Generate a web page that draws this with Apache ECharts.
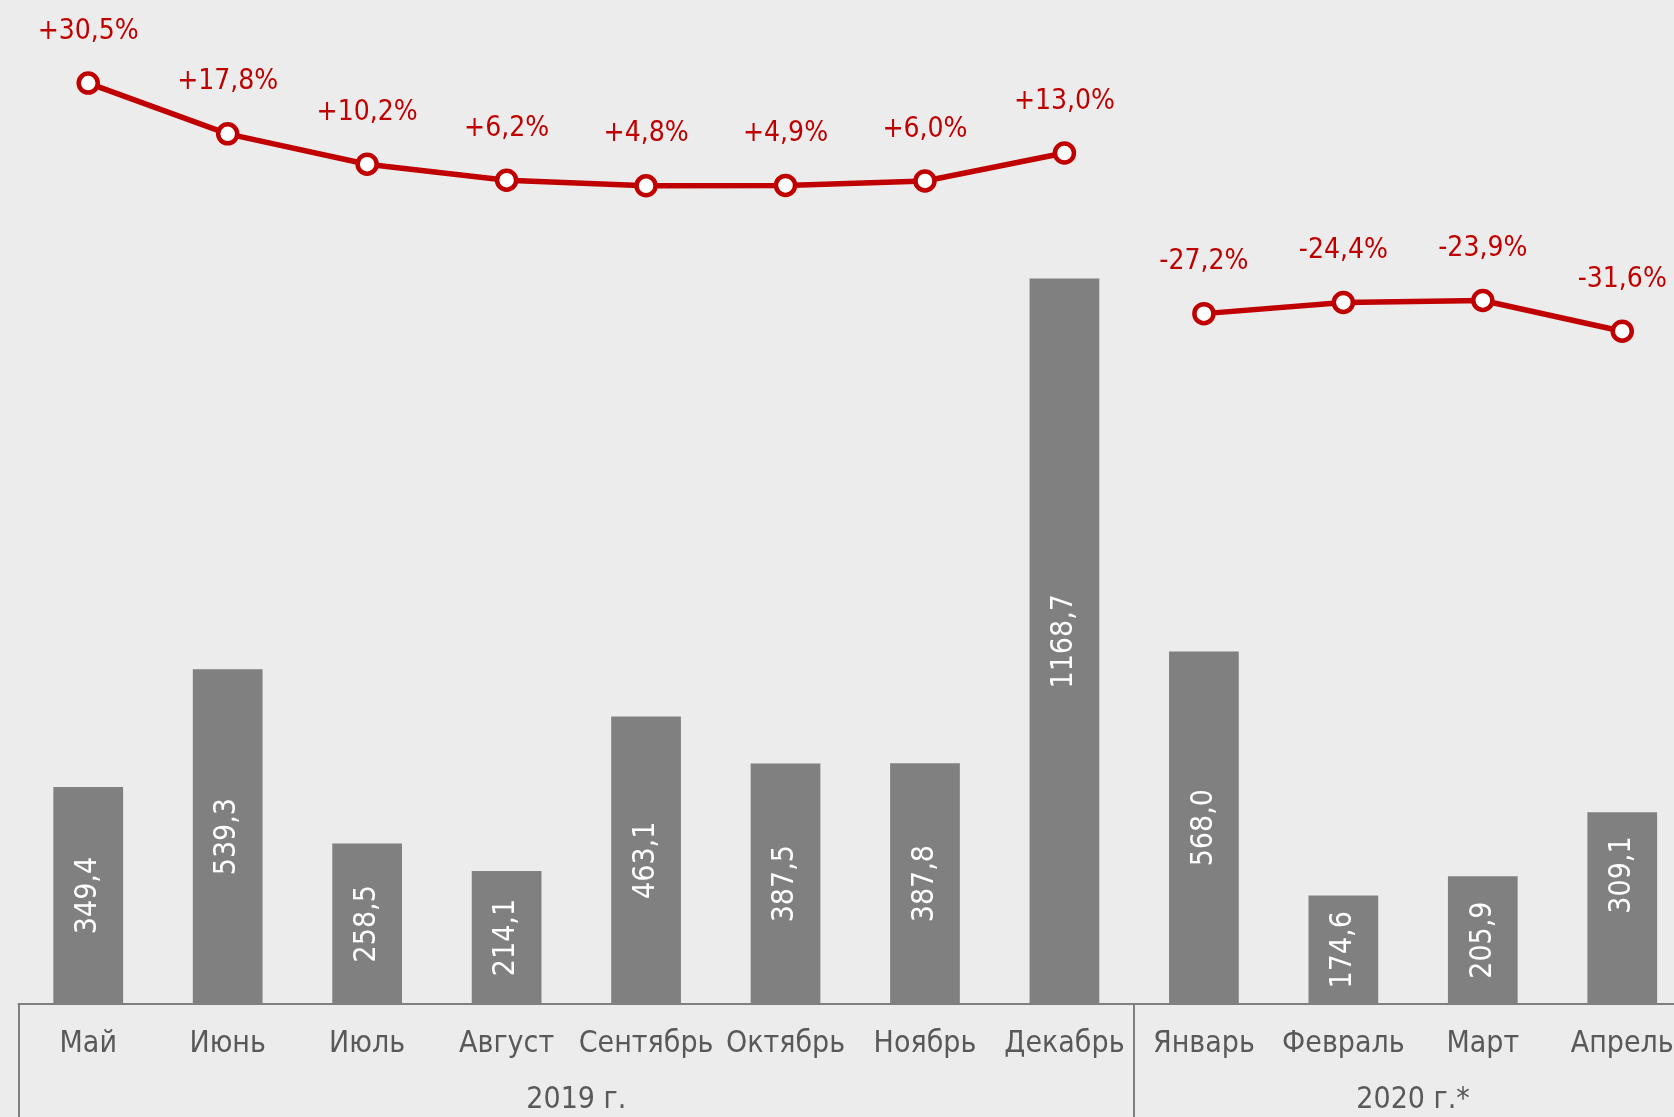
<!DOCTYPE html>
<html>
<head>
<meta charset="utf-8">
<title>Объём по месяцам</title>
<script src="https://cdn.jsdelivr.net/npm/echarts@6/dist/echarts.min.js"></script>
<style>
  html, body { margin: 0; padding: 0; background: #ececec; overflow: hidden; }
  /* the chart runs past the right edge of the window, as in the source */
  #chart { width: 1692px; height: 1117px; }
</style>
</head>
<body>
<div id="chart"></div>
<script>
// месяцы
const months = ["Май", "Июнь", "Июль", "Август", "Сентябрь", "Октябрь", "Ноябрь", "Декабрь",
  "Январь", "Февраль", "Март", "Апрель"];
// объём (столбцы)
const volumes = [349.4, 539.3, 258.5, 214.1, 463.1, 387.5, 387.8, 1168.7, 568.0, 174.6, 205.9, 309.1];
// прирост, % (линия)
const growth = [30.5, 17.8, 10.2, 6.2, 4.8, 4.9, 6.0, 13.0, -27.2, -24.4, -23.9, -31.6];
// годы
const years = ["2019 г.", "2020 г.*"];
const split = 8; // первый месяц 2020 года

const font = "DejaVu Sans Condensed";
const red = "#c00000";

const fmt = (v) => v.toFixed(1).replace(".", ",");

function lineSeries(part) {
  return {
    type: "line",
    yAxisIndex: 1,
    data: growth.map((v, i) => ((i < split) === (part === 0) ? v : null)),
    connectNulls: false,
    symbol: "circle",
    symbolSize: 19,
    lineStyle: { color: red, width: 5.5 },
    itemStyle: { color: "#ffffff", borderColor: red, borderWidth: 4.5 },
    label: {
      show: true,
      position: "top",
      distance: 26,
      color: red,
      fontFamily: font,
      fontSize: 28,
      formatter: (p) => (p.value > 0 ? "+" : "") + fmt(p.value) + "%",
    },
    z: 5,
  };
}

// the last bar is cut by the window edge; its label sits a bit higher
// (offset is in the rotated label's own frame)
const barData = volumes.map((v, i) =>
  i === volumes.length - 1 ? { value: v, label: { offset: [33, 0] } } : v
);

const chart = echarts.init(document.getElementById("chart"));
chart.setOption({
  animation: false,
  backgroundColor: "#ececec",
  grid: { left: 18.5, right: 0, top: 4, bottom: 113 },
  xAxis: [
    {
      type: "category",
      data: months,
      axisLine: { lineStyle: { color: "#7f7f7f", width: 2 } },
      axisTick: {
        show: true,
        length: 120,
        interval: (i) => i === 0 || i === split,
        lineStyle: { color: "#7f7f7f", width: 2 },
      },
      axisLabel: {
        interval: 0,
        margin: 25,
        color: "#595959",
        fontFamily: font,
        fontSize: 30,
      },
    },
    {
      type: "value",
      position: "bottom",
      min: 0,
      max: months.length,
      interval: 2,
      axisLine: { show: false },
      axisTick: { show: false },
      splitLine: { show: false },
      axisLabel: {
        margin: 81,
        color: "#595959",
        fontFamily: font,
        fontSize: 30,
        showMinLabel: false,
        showMaxLabel: false,
        formatter: (v) => (v === split / 2 ? years[0] : v === (split + months.length) / 2 ? years[1] : ""),
      },
    },
  ],
  yAxis: [
    { type: "value", min: 0, max: 1611, show: false, splitLine: { show: false } },
    { type: "value", min: -200, max: 50.3, show: false, splitLine: { show: false } },
  ],
  series: [
    {
      type: "bar",
      data: barData,
      barWidth: "50%",
      itemStyle: { color: "#808080" },
      label: {
        show: true,
        position: "inside",
        rotate: 90,
        color: "#ffffff",
        fontFamily: font,
        fontSize: 30,
        formatter: (p) => fmt(p.value),
      },
    },
    lineSeries(0),
    lineSeries(1),
  ],
});
</script>
</body>
</html>
